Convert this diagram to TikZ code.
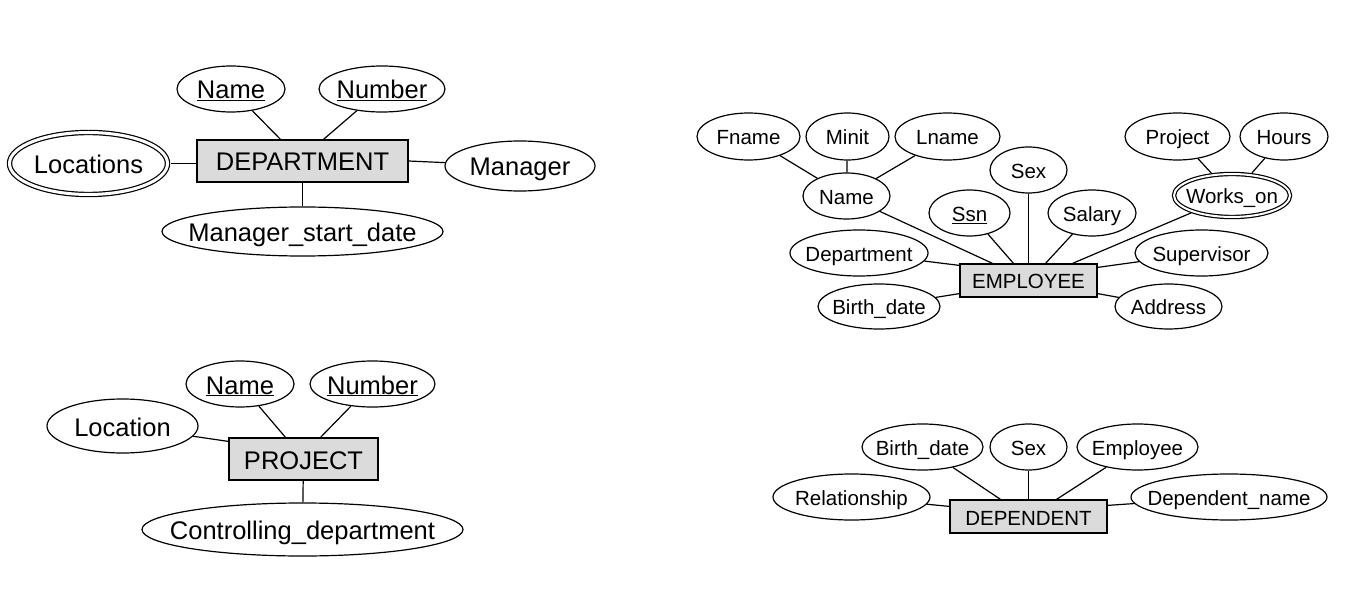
\documentclass[tikz,border=0pt]{standalone}
\usepackage{fontspec}
\setmainfont{Liberation Sans}
\usetikzlibrary{shapes}

\newcommand{\attrText}[1]{\makebox[0pt]{#1}}

\begin{document}
\begin{tikzpicture}[x = 1pt, y = -1pt, line width = 1.2pt]
\tikzstyle{attrStyle} = [shape = ellipse, draw, inner sep = 0pt, minimum height = 46pt]
\tikzstyle{multiStyle} = [attrStyle, double, double distance = 2pt]
\tikzstyle{entityStyle} = [shape = rectangle, draw, fill = black!14, inner sep = 0pt]
\tikzstyle{bigText} = [font = \fontsize{25.5}{30}\selectfont, text height = 21pt, text depth = 1pt]
\tikzstyle{smallText} = [font = \fontsize{20.5}{24}\selectfont, text height = 17.5pt, text depth = 0.5pt]
\useasboundingbox (0,0) rectangle (1356,593);
% DEPARTMENT
\node[entityStyle, bigText, minimum width = 211pt, minimum height = 42pt] (dept) at (302.5,161) {DEPARTMENT};
\node[attrStyle, bigText, minimum width = 108pt] (dname) at (231,89) {\attrText{\underline{Name}}};
\node[attrStyle, bigText, minimum width = 126pt] (dnumber) at (382,89) {\attrText{\underline{Number}}};
\node[multiStyle, bigText, double distance = 3pt, minimum width = 158pt, minimum height = 62pt] (dlocs) at (88.5,163.5) {\attrText{Locations}};
\node[attrStyle, bigText, minimum width = 150pt, minimum height = 50pt] (dmgr) at (520,166) {\attrText{Manager}};
\node[attrStyle, bigText, minimum width = 281pt, minimum height = 49pt] (dmsd) at (302.5,231.5) {\attrText{Manager\_start\_date}};
\draw (dname) -- ([xshift = -22pt]dept.north);
\draw (dnumber) -- ([xshift = 21pt]dept.north);
\draw[shorten < = 2.6pt] (dlocs) -- (dlocs -| dept.west);
\draw (dept.east) -- (dmgr);
\draw (dept) -- (dmsd);
% EMPLOYEE
\node[entityStyle, smallText, minimum width = 137pt, minimum height = 33pt] (emp) at (1028.5,280.5) {EMPLOYEE};
\node[attrStyle, smallText, minimum width = 103pt, minimum height = 47pt] (efname) at (748.5,136.5) {\attrText{Fname}};
\node[attrStyle, smallText, minimum width = 83pt, minimum height = 47pt] (eminit) at (847.5,136.5) {\attrText{Minit}};
\node[attrStyle, smallText, minimum width = 105pt, minimum height = 47pt] (elname) at (947.5,136.5) {\attrText{Lname}};
\node[attrStyle, smallText, minimum width = 77pt] (esex) at (1028.5,170) {\attrText{Sex}};
\node[attrStyle, smallText, minimum width = 105pt, minimum height = 47pt] (eproject) at (1177.5,136.5) {\attrText{Project}};
\node[attrStyle, smallText, minimum width = 88pt, minimum height = 47pt] (ehours) at (1284,136.5) {\attrText{Hours}};
\node[attrStyle, smallText, minimum width = 87pt] (ename) at (846.5,196) {\attrText{Name}};
\node[attrStyle, smallText, minimum width = 81pt] (essn) at (969.5,213) {\attrText{\underline{Ssn}}};
\node[attrStyle, smallText, minimum width = 88pt] (esalary) at (1092,213) {\attrText{Salary}};
\node[multiStyle, smallText, minimum width = 116pt, minimum height = 43pt] (eworks) at (1232,195.5) {\attrText{Works\_on}};
\node[attrStyle, smallText, minimum width = 138pt] (edept) at (859,253) {\attrText{Department}};
\node[attrStyle, smallText, minimum width = 133pt] (esuper) at (1201.5,253) {\attrText{Supervisor}};
\node[attrStyle, smallText, minimum width = 122pt, minimum height = 45pt] (ebirth) at (879,306.5) {\attrText{Birth\_date}};
\node[attrStyle, smallText, minimum width = 107pt, minimum height = 45pt] (eaddr) at (1168.5,306.5) {\attrText{Address}};
\draw (efname) -- (ename);
\draw (eminit) -- (ename);
\draw (elname) -- (ename);
\draw[shorten > = 2.2pt] (eproject) -- (eworks);
\draw[shorten > = 2.2pt] (ehours) -- (eworks);
\draw (ename) -- ([xshift = -36pt]emp.north);
\draw (essn) -- ([xshift = -15pt]emp.north);
\draw (esex) -- (emp.north);
\draw (esalary) -- ([xshift = 17pt]emp.north);
\draw[shorten < = 2.2pt] (eworks) -- ([xshift = 44pt]emp.north);
\draw (edept) -- ([yshift = -2pt]emp.north west);
\draw (esuper) -- ([yshift = -4pt]emp.north east);
\draw (ebirth) -- ([yshift = 4pt]emp.south west);
\draw (eaddr) -- ([yshift = 4pt]emp.south east);
% PROJECT
\node[entityStyle, bigText, minimum width = 149pt, minimum height = 42pt] (proj) at (303.5,459) {PROJECT};
\node[attrStyle, bigText, minimum width = 108pt] (pname) at (240,384) {\attrText{\underline{Name}}};
\node[attrStyle, bigText, minimum width = 125pt] (pnumber) at (372.5,384) {\attrText{\underline{Number}}};
\node[attrStyle, bigText, minimum width = 151pt, minimum height = 54pt] (ploc) at (122.5,426) {\attrText{Location}};
\node[attrStyle, bigText, minimum width = 321pt, minimum height = 53pt] (pcd) at (302.5,529.5) {\attrText{Controlling\_department}};
\draw (pname) -- ([xshift = -18pt]proj.north);
\draw (pnumber) -- ([xshift = 17pt]proj.north);
\draw (ploc) -- ([yshift = -4pt]proj.north west);
\draw (proj) -- (pcd);
% DEPENDENT
\node[entityStyle, smallText, minimum width = 157pt, minimum height = 33pt] (dep) at (1028.5,516.5) {DEPENDENT};
\node[attrStyle, smallText, minimum width = 121pt] (dpbirth) at (922.5,447) {\attrText{Birth\_date}};
\node[attrStyle, smallText, minimum width = 77pt] (dpsex) at (1028.5,447) {\attrText{Sex}};
\node[attrStyle, smallText, minimum width = 121pt] (dpemp) at (1137.5,447) {\attrText{Employee}};
\node[attrStyle, smallText, minimum width = 157pt] (dprel) at (851.5,497) {\attrText{Relationship}};
\node[attrStyle, smallText, minimum width = 196pt] (dpname) at (1229,497) {\attrText{Dependent\_name}};
\draw (dpbirth) -- ([xshift = -28pt]dep.north);
\draw (dpsex) -- (dep.north);
\draw (dpemp) -- ([xshift = 28pt]dep.north);
\draw (dprel) -- ([yshift = -7pt]dep.north west);
\draw ([yshift = -6pt]dep.north east) -- (dpname);
\end{tikzpicture}
\end{document}
